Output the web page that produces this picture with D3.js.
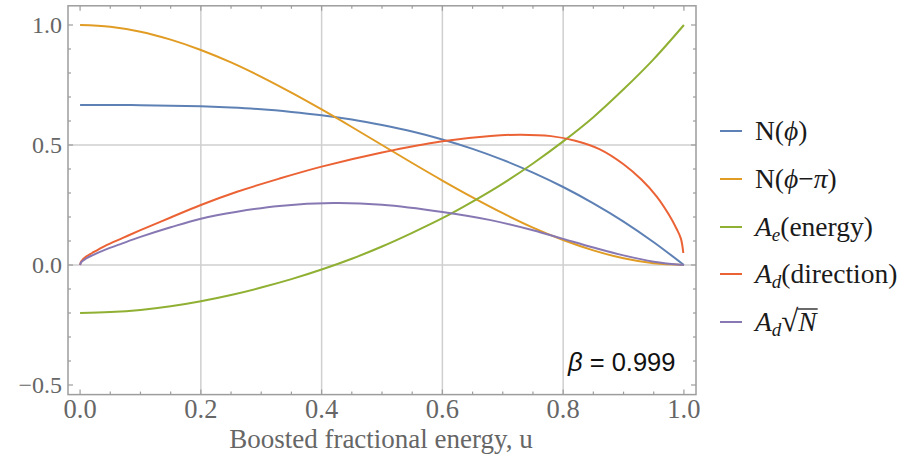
<!DOCTYPE html>
<html><head><meta charset="utf-8">
<script src="https://cdn.jsdelivr.net/npm/d3@7/dist/d3.min.js"></script>
<style>body{margin:0;background:#fff}</style>
</head><body>
<svg id="chart" width="904" height="457"></svg>
<script>
// Boosted fractional energy grid for the spectra
const uGrid = [0,0.05,0.1,0.15,0.2,0.25,0.3,0.35,0.4,0.45,0.5,0.55,0.6,0.65,0.7,0.75,0.8,0.85,0.9,0.95,1.0];
const nPhi = [0.667,0.667,0.666,0.664,0.661,0.656,0.649,0.638,0.624,0.606,0.583,0.556,0.523,0.484,0.438,0.385,0.325,0.257,0.181,0.095,0];
const nPhiPi = [1,0.993,0.972,0.939,0.896,0.844,0.784,0.718,0.648,0.575,0.5,0.425,0.352,0.282,0.216,0.156,0.104,0.061,0.028,0.007,0];
const aEnergy = [-0.2,-0.196,-0.187,-0.172,-0.151,-0.125,-0.094,-0.059,-0.019,0.026,0.077,0.134,0.195,0.264,0.339,0.423,0.515,0.616,0.732,0.858,1.0];

// Direction asymmetry, sampled more densely where it bends
const uDir = [0,0.002,0.01,0.02,0.04,0.07,0.1,0.15,0.2,0.26,0.33,0.4,0.5,0.6,0.68,0.73,0.78,0.82,0.86,0.9,0.93,0.955,0.975,0.988,0.995,0.999];
const aDirection = [0,0.016,0.035,0.05,0.078,0.112,0.145,0.198,0.25,0.305,0.36,0.41,0.469,0.516,0.538,0.543,0.537,0.518,0.483,0.42,0.355,0.285,0.21,0.15,0.11,0.05];

const uDirN = [0,0.002,0.01,0.02,0.04,0.07,0.1,0.15,0.2,0.26,0.33,0.42,0.5,0.6,0.68,0.75,0.8,0.85,0.9,0.95,1.0];
const aDirSqrtN = [0,0.012,0.027,0.04,0.062,0.09,0.117,0.157,0.193,0.222,0.246,0.258,0.251,0.221,0.187,0.145,0.109,0.073,0.04,0.014,0];

const xTicks = [0,0.2,0.4,0.6,0.8,1.0];
const yTicks = [-0.5,0,0.5,1.0];
const xGrid = [0.2,0.4,0.6,0.8];
const yGrid = [0,0.5];
const betaLabel = "0.999";

const colors = ["#5E81B5","#E19C24","#8FB032","#EB6235","#8778B3"];

const svg = d3.select("#chart");
const x = d3.scaleLinear().domain([-0.02,1.02]).range([68,696]);
const y = d3.scaleLinear().domain([-0.54,1.08]).range([394.6,5.8]);
const [x0,x1] = x.range();
const [yb,yt] = y.range();

// grid
const g = svg.append("g");
g.selectAll(".gx").data(xGrid).join("line")
  .attr("x1",d=>x(d)).attr("x2",d=>x(d)).attr("y1",yt).attr("y2",yb)
  .attr("stroke","#cfcfcf").attr("stroke-width",1.5);
g.selectAll(".gy").data(yGrid).join("line")
  .attr("x1",x0).attr("x2",x1).attr("y1",d=>y(d)).attr("y2",d=>y(d))
  .attr("stroke","#cfcfcf").attr("stroke-width",1.5);

// series
const series = [
  {u:uGrid, v:nPhi},
  {u:uGrid, v:nPhiPi},
  {u:uGrid, v:aEnergy},
  {u:uDir, v:aDirection},
  {u:uDirN, v:aDirSqrtN}
];
const line = d3.line().x(d=>x(d[0])).y(d=>y(d[1])).curve(d3.curveCatmullRom.alpha(0.5));
series.forEach((s,i)=>{
  svg.append("path").datum(s.u.map((u,k)=>[u,s.v[k]]))
    .attr("d",line).attr("fill","none").attr("stroke",colors[i])
    .attr("stroke-width",2).attr("stroke-linejoin","round");
});

// frame with inward ticks on all sides
const axisColor = "#9d9d9d";
svg.append("rect").attr("x",x0).attr("y",yt).attr("width",x1-x0).attr("height",yb-yt)
  .attr("fill","none").attr("stroke",axisColor).attr("stroke-width",1.5);

const xMinor = d3.range(0,21).map(i=>i*0.05);
const yMinor = d3.range(0,16).map(i=>-0.5+i*0.1);
const isMajor = (v,arr)=>arr.some(t=>Math.abs(t-v)<1e-6);
const tk = svg.append("g").attr("stroke",axisColor).attr("stroke-width",1.2);
xMinor.forEach(v=>{
  const L = isMajor(v,xTicks)?5:3;
  tk.append("line").attr("x1",x(v)).attr("x2",x(v)).attr("y1",yb).attr("y2",yb-L);
  tk.append("line").attr("x1",x(v)).attr("x2",x(v)).attr("y1",yt).attr("y2",yt+L);
});
yMinor.forEach(v=>{
  const L = isMajor(v,yTicks)?5:3;
  tk.append("line").attr("y1",y(v)).attr("y2",y(v)).attr("x1",x0).attr("x2",x0+L);
  tk.append("line").attr("y1",y(v)).attr("y2",y(v)).attr("x1",x1).attr("x2",x1-L);
});

const fmt = d3.format(".1f");
const serif = "'Liberation Serif','Times New Roman',serif";
svg.append("g").selectAll("text").data(xTicks).join("text")
  .attr("x",d=>x(d)).attr("y",418).attr("text-anchor","middle")
  .attr("font-family",serif).attr("font-size",26.5).attr("fill","#666")
  .text(fmt);
svg.append("g").selectAll("text").data(yTicks).join("text")
  .attr("x",62).attr("y",d=>y(d)+8).attr("text-anchor","end")
  .attr("font-family",serif).attr("font-size",24).attr("fill","#666")
  .text(fmt);

svg.append("text").attr("x",381).attr("y",448).attr("text-anchor","middle")
  .attr("font-family",serif).attr("font-size",27).attr("fill","#666")
  .text("Boosted fractional energy,\u00a0u");

// beta annotation
const bt = svg.append("text").attr("x",568).attr("y",371)
  .attr("font-family","'Liberation Sans',Arial,sans-serif").attr("font-size",25.5).attr("fill","#111");
bt.append("tspan").attr("font-style","italic").text("\u03b2");
bt.append("tspan").text(" = " + betaLabel);

// legend
const legY = [131,179,227,274,322];
const leg = svg.append("g");
legY.forEach((ly,i)=>{
  leg.append("line").attr("x1",720).attr("x2",742).attr("y1",ly).attr("y2",ly)
    .attr("stroke",colors[i]).attr("stroke-width",2);
});
const lt = (i)=>leg.append("text").attr("x",755).attr("y",legY[i]+9)
  .attr("font-family",serif).attr("font-size",27.5).attr("fill","#1a1a1a");
let t;
t = lt(0);
t.append("tspan").text("N(");
t.append("tspan").attr("font-style","italic").text("\u03d5");
t.append("tspan").text(")");
t = lt(1);
t.append("tspan").text("N(");
t.append("tspan").attr("font-style","italic").text("\u03d5");
t.append("tspan").text("\u2212");
t.append("tspan").attr("font-style","italic").text("\u03c0");
t.append("tspan").text(")");
t = lt(2);
t.append("tspan").attr("font-style","italic").text("A");
t.append("tspan").attr("font-style","italic").attr("font-size",19).attr("dy",5).text("e");
t.append("tspan").attr("dy",-5).text("(energy)");
t = lt(3);
t.append("tspan").attr("font-style","italic").text("A");
t.append("tspan").attr("font-style","italic").attr("font-size",19).attr("dy",5).text("d");
t.append("tspan").attr("dy",-5).text("(direction)");
t = lt(4);
t.append("tspan").attr("font-style","italic").text("A");
t.append("tspan").attr("font-style","italic").attr("font-size",19).attr("dy",5).text("d");
t.append("tspan").attr("dy",-5).attr("font-size",31).text("\u221a");
t.append("tspan").attr("font-style","italic").text("N");
// vinculum over N
const n = t.node();
const cnt = n.getNumberOfChars();
const rad = n.getExtentOfChar(cnt-2);
const last = n.getExtentOfChar(cnt-1);
leg.append("line").attr("x1",rad.x+rad.width-1).attr("x2",last.x+last.width+1)
  .attr("y1",legY[4]-13).attr("y2",legY[4]-13).attr("stroke","#1a1a1a").attr("stroke-width",1.3);
</script>
</body></html>
